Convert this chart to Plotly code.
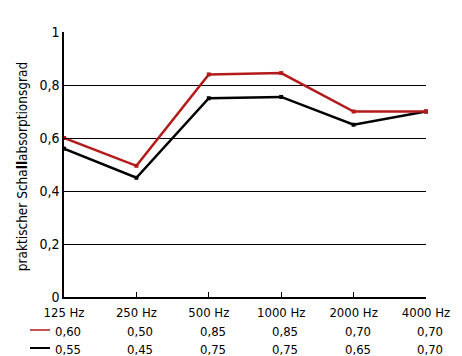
import plotly.graph_objects as go

# frequency bands
freqs = ["125 Hz", "250 Hz", "500 Hz", "1000 Hz", "2000 Hz", "4000 Hz"]

# table values (rounded)
red_tab = ["0,60", "0,50", "0,85", "0,85", "0,70", "0,70"]
black_tab = ["0,55", "0,45", "0,75", "0,75", "0,65", "0,70"]

# curves as drawn
red_vals = [0.60, 0.495, 0.84, 0.845, 0.70, 0.70]
black_vals = [0.56, 0.45, 0.75, 0.755, 0.65, 0.70]

y_ticks = [0, 0.2, 0.4, 0.6, 0.8, 1]
y_labels = ["0", "0,2", "0,4", "0,6", "0,8", "1"]

RED = "#b31b1b"
FONT = "DejaVu Sans Condensed, Liberation Sans Narrow, Liberation Sans, sans-serif"

xs = list(range(len(freqs)))

fig = go.Figure()
fig.add_trace(go.Scatter(x=xs, y=black_vals, mode="lines+markers",
                         line=dict(color="black", width=2.5),
                         marker=dict(symbol="square", size=4, color="black"),
                         cliponaxis=False))
fig.add_trace(go.Scatter(x=xs, y=red_vals, mode="lines+markers",
                         line=dict(color=RED, width=2.5),
                         marker=dict(symbol="square", size=4, color=RED),
                         cliponaxis=False))

# table under the x axis
pw, ph = 362, 265
for vals, col, off in [(red_tab, RED, 34), (black_tab, "black", 52)]:
    for i, v in enumerate(vals):
        fig.add_annotation(x=i, y=-off / ph, xref="x", yref="paper", text=v,
                           showarrow=False, xshift=4, yanchor="middle",
                           font=dict(size=13, color="black", family=FONT))
    fig.add_shape(type="line", xref="paper", yref="paper",
                  x0=-34 / pw, x1=-14 / pw, y0=-(off - 1) / ph, y1=-(off - 1) / ph,
                  line=dict(color=col, width=1.5 if col == RED else 2))

# y title as rotated annotation
fig.add_annotation(x=-42 / pw, y=0.49, xref="paper", yref="paper",
                   text="praktischer Scha<b>ll</b>absorptionsgrad", textangle=-90,
                   showarrow=False, xanchor="center", yanchor="middle",
                   font=dict(size=13.5, color="black", family=FONT))

# page body adds 8px offset
fig.update_layout(
    width=462, height=356,
    margin=dict(l=56, r=44, t=24, b=67),
    paper_bgcolor="white", plot_bgcolor="white",
    showlegend=False,
    font=dict(family=FONT, size=13, color="black"),
    xaxis=dict(range=[0, 5], tickvals=xs, ticktext=freqs, showgrid=False,
               showline=True, linecolor="black", linewidth=1.5,
               ticks="inside", ticklen=5, tickcolor="black", zeroline=False,
               tickfont=dict(size=13), ticklabelstandoff=3),
    yaxis=dict(range=[0, 1], tickvals=y_ticks, ticktext=y_labels,
               showgrid=True, gridcolor="black", gridwidth=1,
               showline=True, linecolor="black", linewidth=1.5,
               ticks="inside", ticklen=5, tickcolor="black", zeroline=False,
               tickfont=dict(size=14)),
)

fig.write_html("out.html")
